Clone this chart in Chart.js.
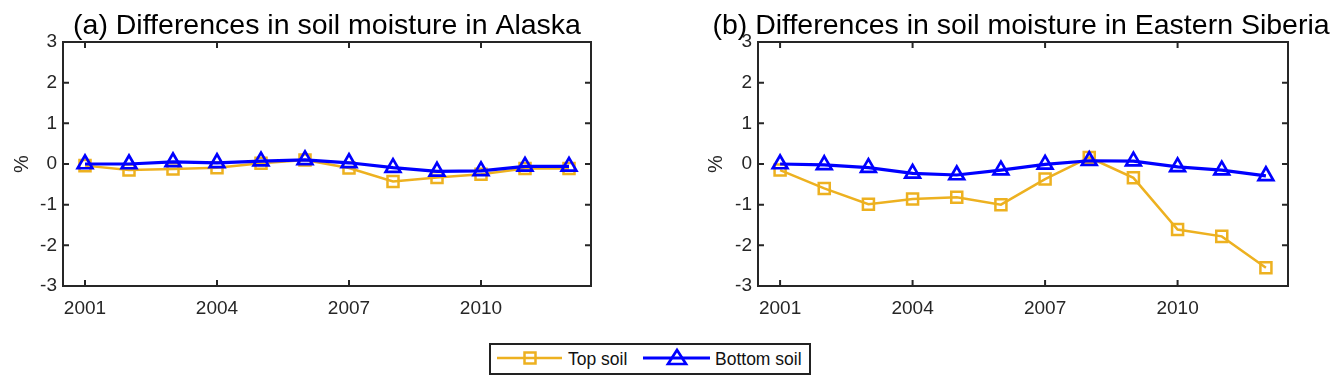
<!DOCTYPE html>
<html>
<head>
<meta charset="utf-8">
<script src="https://cdn.jsdelivr.net/npm/chart.js@4"></script>
<style>
  body { margin: 0; background: #fff; width: 1344px; height: 389px; overflow: hidden; position: relative; font-family: "Liberation Sans", Arial, sans-serif; }
  canvas { position: absolute; top: 0; }
  #legend { position: absolute; left: 489px; top: 343px; }
</style>
</head>
<body>
<canvas id="alaska" width="640" height="330" style="left:0px"></canvas>
<canvas id="siberia" width="642" height="330" style="left:700px"></canvas>
<svg id="legend" width="322" height="32" font-family="Liberation Sans, Arial, sans-serif" font-size="17.5" fill="#111">
  <rect x="1" y="1" width="320" height="30" fill="#fff" stroke="#222" stroke-width="2"/>
  <line x1="8" y1="15" x2="73" y2="15" stroke="#EDB120" stroke-width="2.5"/>
  <rect x="35.5" y="9.5" width="11" height="11" fill="none" stroke="#EDB120" stroke-width="2.5"/>
  <text x="79" y="21.5">Top soil</text>
  <line x1="154" y1="15" x2="221" y2="15" stroke="#0000FF" stroke-width="3"/>
  <polygon points="188,7 197,21 179,21" fill="none" stroke="#0000FF" stroke-width="2.7"/>
  <text x="226" y="21.5">Bottom soil</text>
</svg>
<script>
// data
const years = [2001, 2002, 2003, 2004, 2005, 2006, 2007, 2008, 2009, 2010, 2011, 2012];
const alaskaTop = [-0.04, -0.15, -0.12, -0.09, 0.02, 0.10, -0.10, -0.43, -0.33, -0.25, -0.11, -0.11];
const alaskaBottom = [0.00, 0.00, 0.05, 0.03, 0.07, 0.10, 0.03, -0.09, -0.18, -0.17, -0.06, -0.06];
const siberiaTop = [-0.15, -0.60, -0.99, -0.86, -0.82, -1.00, -0.37, 0.16, -0.34, -1.61, -1.78, -2.55];
const siberiaBottom = [0.00, -0.02, -0.09, -0.23, -0.27, -0.15, -0.01, 0.08, 0.07, -0.07, -0.15, -0.29];
const xTicks = [2001, 2004, 2007, 2010];
const yTicks = [-3, -2, -1, 0, 1, 2, 3];

const ORANGE = "#EDB120";
const BLUE = "#0000FF";
const AXIS = "#262626";
const FONT = "'Liberation Sans', Arial, sans-serif";

// box around the plot with inward ticks on all four sides (matlab style)
const boxPlugin = {
  id: "box",
  afterDraw(chart) {
    const { ctx, chartArea: a, scales: { x, y } } = chart;
    const len = 6;
    ctx.save();
    ctx.strokeStyle = AXIS;
    ctx.lineWidth = 2;
    ctx.beginPath();
    xTicks.forEach(v => {
      const px = x.getPixelForValue(v);
      ctx.moveTo(px, a.bottom); ctx.lineTo(px, a.bottom - len);
      ctx.moveTo(px, a.top); ctx.lineTo(px, a.top + len);
    });
    yTicks.forEach(v => {
      const py = y.getPixelForValue(v);
      ctx.moveTo(a.left, py); ctx.lineTo(a.left + len, py);
      ctx.moveTo(a.right, py); ctx.lineTo(a.right - len, py);
    });
    ctx.stroke();
    ctx.strokeRect(a.left, a.top, a.right - a.left, a.bottom - a.top);
    ctx.restore();
  }
};

// rightGap is taken by an empty right-hand scale so the title can use the full canvas width
function makeChart(id, title, topVals, bottomVals, yWidth, rightGap, yTitlePad, titleFull, titleSize) {
  const pts = vals => vals.map((v, i) => ({ x: years[i], y: v }));
  const lh = 32.2;
  return new Chart(document.getElementById(id), {
    type: "line",
    data: {
      datasets: [
        {
          label: "Top soil",
          data: pts(topVals),
          borderColor: ORANGE,
          borderWidth: 2.5,
          pointStyle: "rect",
          pointRadius: 7.8,
          pointBorderWidth: 2.5,
          pointBorderColor: ORANGE,
          pointBackgroundColor: "rgba(0,0,0,0)",
          tension: 0,
          order: 2
        },
        {
          label: "Bottom soil",
          data: pts(bottomVals),
          borderColor: BLUE,
          borderWidth: 3.2,
          pointStyle: "triangle",
          pointRadius: 8.5,
          pointBorderWidth: 2.7,
          pointBorderColor: BLUE,
          pointBackgroundColor: "rgba(0,0,0,0)",
          tension: 0,
          order: 1
        }
      ]
    },
    options: {
      responsive: false,
      animation: false,
      devicePixelRatio: 1,
      layout: { padding: 0 },
      plugins: {
        legend: { display: false },
        tooltip: { enabled: false },
        title: {
          display: true,
          text: title,
          fullSize: titleFull,
          color: "#000",
          font: { family: FONT, size: titleSize, weight: "normal", lineHeight: lh / titleSize },
          padding: { top: 9.8, bottom: 0 }
        }
      },
      scales: {
        x: {
          type: "linear",
          min: 2000.5,
          max: 2012.5,
          grid: { display: false, drawTicks: false },
          border: { display: false },
          afterBuildTicks: s => { s.ticks = xTicks.map(v => ({ value: v })); },
          afterFit: s => { s.height = 44; },
          ticks: {
            padding: 11,
            maxRotation: 0,
            autoSkip: false,
            color: AXIS,
            font: { family: FONT, size: 19 },
            callback: v => String(v)
          }
        },
        y: {
          min: -3,
          max: 3,
          grid: { display: false, drawTicks: false },
          border: { display: false },
          afterBuildTicks: s => { s.ticks = yTicks.map(v => ({ value: v })); },
          afterFit: s => { s.width = yWidth; },
          ticks: {
            padding: 6,
            color: AXIS,
            font: { family: FONT, size: 19 },
            callback: v => String(v)
          },
          title: {
            display: true,
            text: "%",
            color: AXIS,
            font: { family: FONT, size: 20, lineHeight: 1.2 },
            padding: { top: yTitlePad, bottom: 0 }
          }
        },
        yRight: {
          position: "right",
          min: -3,
          max: 3,
          grid: { display: false, drawTicks: false },
          border: { display: false },
          ticks: { display: false },
          afterFit: s => { s.width = rightGap; }
        }
      }
    },
    plugins: [boxPlugin]
  });
}

makeChart("alaska", "(a) Differences in soil moisture in Alaska", alaskaTop, alaskaBottom, 63, 49, 10, false, 28.5);
makeChart("siberia", "(b) Differences in soil moisture in Eastern Siberia", siberiaTop, siberiaBottom, 58, 54, 4.5, true, 28.5);
</script>
</body>
</html>
